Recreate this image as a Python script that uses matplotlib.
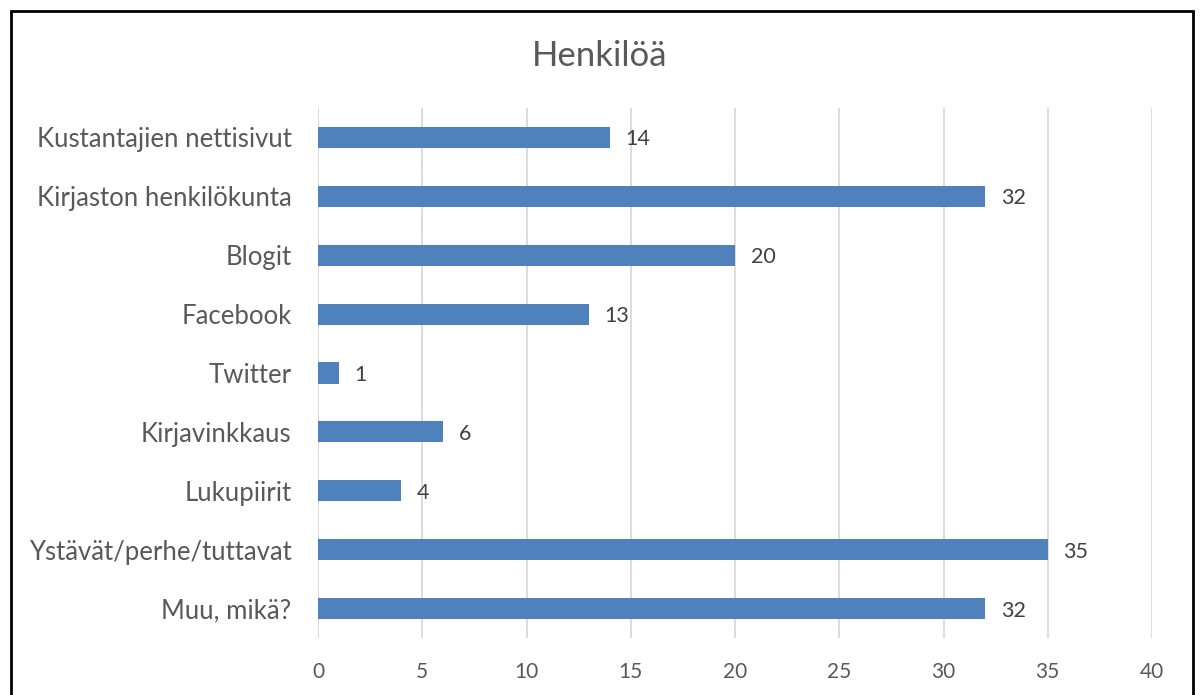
import matplotlib
matplotlib.use("Agg")
import matplotlib.pyplot as plt
from matplotlib.patches import Rectangle

categories = ["Kustantajien nettisivut", "Kirjaston henkilökunta", "Blogit", "Facebook",
              "Twitter", "Kirjavinkkaus", "Lukupiirit", "Ystävät/perhe/tuttavat", "Muu, mikä?"]
values = [14, 32, 20, 13, 1, 6, 4, 35, 32]
xticks = [0, 5, 10, 15, 20, 25, 30, 35, 40]
title = "Henkilöä"

plt.rcParams['font.family'] = ['Lato', 'DejaVu Sans']
txt = '#595959'

fig = plt.figure(figsize=(12, 6.95), dpi=100)
ax = fig.add_axes([0.265, 0.082, 0.695, 0.7626])

ypos = list(range(len(categories)))
ax.barh(ypos, values, height=0.36, color='#4F81BD', zorder=3)
for y, v in zip(ypos, values):
    ax.text(v + 0.75, y, str(v), va='center_baseline', ha='left', fontsize=15.5, color='#404040')

ax.set_ylim(len(categories) - 0.5, -0.5)
ax.set_xlim(0, 40)
ax.set_xticks(xticks)
ax.set_xticklabels([str(t) for t in xticks], fontsize=15, color=txt)
ax.set_yticks(ypos)
ax.set_yticklabels(categories, fontsize=18.5, color=txt)
ax.tick_params(axis='both', length=0)
ax.tick_params(axis='x', pad=17)
ax.tick_params(axis='y', pad=19)
ax.grid(axis='x', color='#D9D9D9', linewidth=1.3, zorder=0)
for s in ax.spines.values():
    s.set_visible(False)

fig.text(0.5, 1 - 56 / 695, title, ha='center', va='center', fontsize=25, color=txt)

fig.patches.append(Rectangle((11 / 1200, -0.05), (1193 - 11) / 1200, 1 - 11 / 695 + 0.05,
                             transform=fig.transFigure, fill=False, edgecolor='black',
                             linewidth=2))

fig.savefig("out.png", dpi=100)
